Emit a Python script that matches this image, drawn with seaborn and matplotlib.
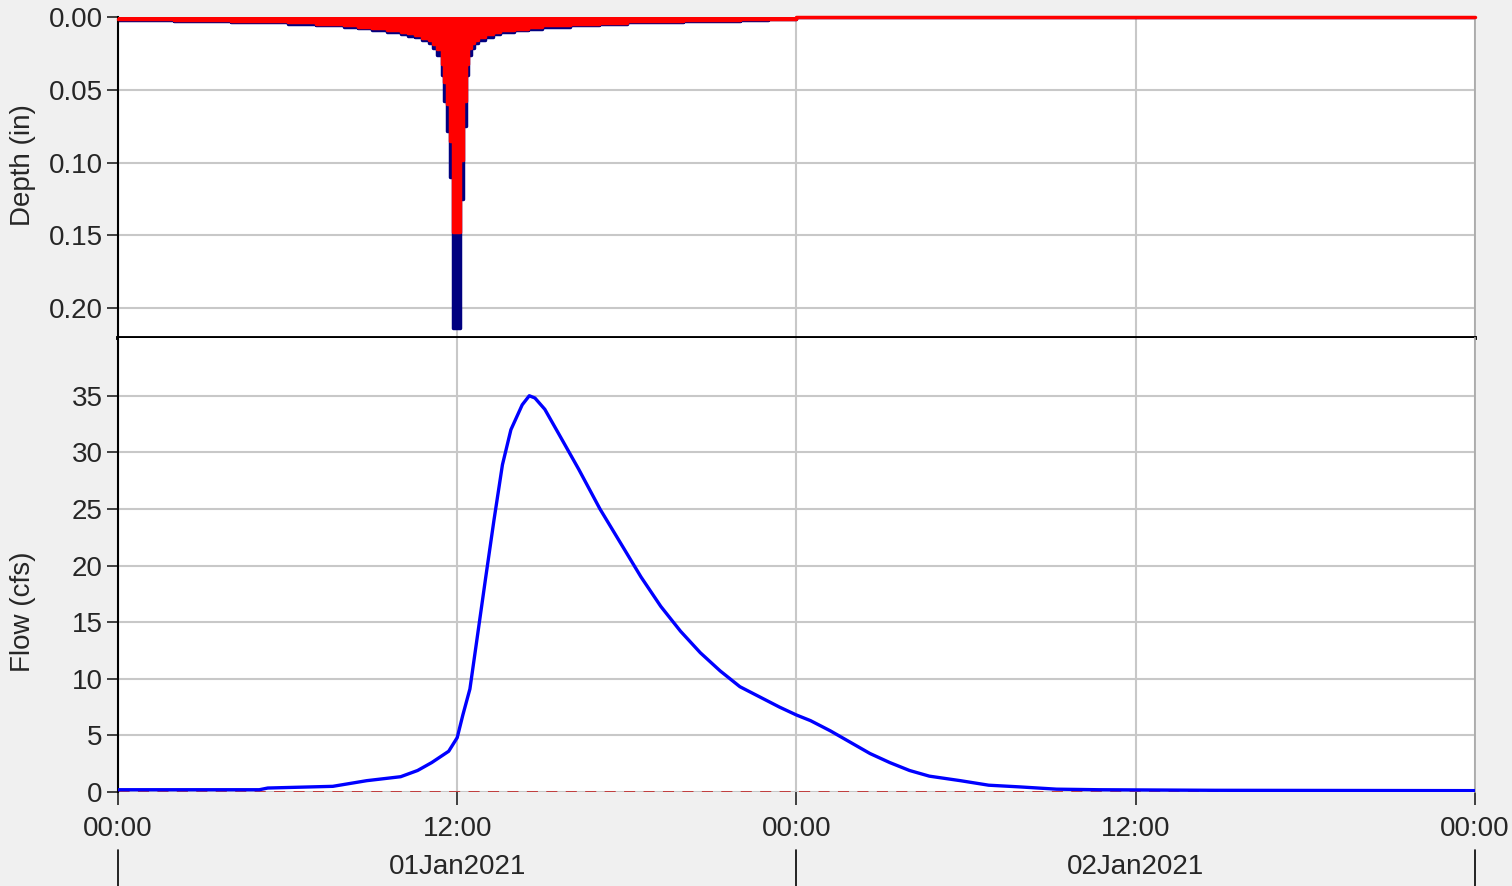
import numpy as np
import matplotlib
matplotlib.use("Agg")
import matplotlib.pyplot as plt
import matplotlib.transforms as mtransforms
import seaborn as sns

sns.set_theme(style="white")
plt.rcParams["font.family"] = ["Liberation Sans", "DejaVu Sans"]

# ---------- DATA (hours since 01Jan2021 00:00) ----------
rain_hours = [0, 2, 4, 6, 7, 8, 8.5, 9, 9.5, 10,
              10.25, 10.5, 10.75, 11, 11.15, 11.3, 11.45, 11.55, 11.65, 11.75,
              11.85, 12.1, 12.2, 12.3, 12.4, 12.5, 12.6, 12.75, 13, 13.25,
              13.5, 14, 14.5, 15, 16, 17, 18, 20, 22, 23,
              24, 48]
# total precipitation depth per interval (in)
rain_in = [0.002, 0.003, 0.0035, 0.0045, 0.0055, 0.0068, 0.0078, 0.009, 0.0102, 0.0115,
           0.0128, 0.014, 0.016, 0.018, 0.021, 0.026, 0.04, 0.058, 0.078, 0.11,
           0.214, 0.125, 0.075, 0.04, 0.026, 0.021, 0.018, 0.016, 0.0135, 0.012,
           0.0105, 0.0092, 0.008, 0.0068, 0.0056, 0.0047, 0.0037, 0.0028, 0.002, 0.0015,
           0, 0]
# excess precipitation depth per interval (in)
excess_in = [0.0015, 0.0022, 0.0028, 0.0037, 0.0046, 0.0058, 0.0067, 0.0078, 0.0089, 0.0101,
             0.0113, 0.0124, 0.0142, 0.016, 0.0185, 0.022, 0.032, 0.045, 0.06, 0.085,
             0.148, 0.098, 0.058, 0.032, 0.021, 0.018, 0.0155, 0.0138, 0.0117, 0.0104,
             0.0091, 0.008, 0.0069, 0.0058, 0.0047, 0.0039, 0.003, 0.0022, 0.0016, 0.0012,
             0, 0]

flow_hours = [0, 5.0, 5.3, 7.6, 8.8, 10.0, 10.6, 11.1, 11.7, 12.0,
              12.2, 12.45, 12.7, 13.0, 13.3, 13.6, 13.9, 14.3, 14.55, 14.75,
              15.1, 15.6, 16.3, 17.05, 17.8, 18.5, 19.2, 19.9, 20.6, 21.3,
              22.0, 22.7, 23.4, 24.0, 24.5, 25.2, 25.9, 26.6, 27.3, 28.0,
              28.7, 29.8, 30.8, 31.9, 33.2, 34.7, 38.8, 48]
flow_cfs = [0.2, 0.2, 0.35, 0.5, 1.0, 1.35, 1.9, 2.6, 3.6, 4.8,
            6.8, 9.1, 13.5, 18.8, 24.0, 28.9, 32.0, 34.2, 35.0, 34.8,
            33.8, 31.6, 28.5, 25.0, 21.9, 19.0, 16.4, 14.2, 12.3, 10.7,
            9.3, 8.4, 7.5, 6.8, 6.3, 5.4, 4.4, 3.4, 2.6, 1.9,
            1.4, 1.0, 0.6, 0.45, 0.25, 0.2, 0.15, 0.12]

x_ticks = [0, 12, 24, 36, 48]
x_tick_labels = ["00:00", "12:00", "00:00", "12:00", "00:00"]
day_edges = [0, 24, 48]
day_centers = [12, 36]
day_labels = ["01Jan2021", "02Jan2021"]
depth_ticks = [0.00, 0.05, 0.10, 0.15, 0.20]
flow_ticks = [0, 5, 10, 15, 20, 25, 30, 35]

FS = 20
GRID = "#c8c8c8"

fig = plt.figure(figsize=(15.12, 8.86), dpi=100, facecolor="#f0f0f0")
ax_top = fig.add_axes([0.0780, 0.6185, 0.8975, 0.3623])
ax_bot = fig.add_axes([0.0780, 0.1061, 0.8975, 0.5124])

# ---------- DEPTH PANEL ----------
ax_top.fill_between(rain_hours, rain_in, step="post", color="#000080", lw=0, zorder=2)
sns.lineplot(x=rain_hours, y=rain_in, drawstyle="steps-post", color="#000080",
             lw=2.5, ax=ax_top, zorder=2)
ax_top.fill_between(rain_hours, excess_in, step="post", color="#ff0000", lw=0, zorder=3)
sns.lineplot(x=rain_hours, y=excess_in, drawstyle="steps-post", color="#ff0000",
             lw=2.5, ax=ax_top, zorder=4, clip_on=False)
ax_top.set_xlim(0, 48)
ax_top.set_ylim(0.2206, 0)
ax_top.set_yticks(depth_ticks)
ax_top.set_yticklabels([f"{v:.2f}" for v in depth_ticks])
ax_top.set_xticks(x_ticks)
ax_top.tick_params(axis="x", length=0, labelbottom=False)
ax_top.tick_params(axis="y", length=8, width=1.2, pad=3, labelsize=FS, color="#222222", left=True)
ax_top.grid(True, color=GRID, lw=1.5)
ax_top.set_axisbelow(True)
ax_top.set_ylabel("Depth (in)", fontsize=FS)
ax_top.yaxis.set_label_coords(-0.0604, 0.54)
ax_top.spines["top"].set_visible(False)
ax_top.spines["left"].set_color("black")
ax_top.spines["left"].set_linewidth(1.5)
ax_top.spines["right"].set_color("#a8a8a8")
ax_top.spines["bottom"].set_color("black")
ax_top.spines["bottom"].set_linewidth(2.8)

# ---------- FLOW PANEL ----------
ax_bot.axhline(0, color="#c03030", lw=2, ls=(0, (4, 3)), zorder=2)
sns.lineplot(x=flow_hours, y=flow_cfs, color="#0000ff", lw=2.4, ax=ax_bot, zorder=3)
ax_bot.set_xlim(0, 48)
ax_bot.set_ylim(0, 40.1)
ax_bot.set_yticks(flow_ticks)
ax_bot.set_xticks(x_ticks)
ax_bot.set_xticklabels(x_tick_labels)
ax_bot.tick_params(axis="y", length=8, width=1.2, pad=3, labelsize=FS, color="#222222", left=True)
ax_bot.tick_params(axis="x", length=9, width=1.2, pad=8, labelsize=FS, color="#222222", bottom=True)
ax_bot.grid(True, color=GRID, lw=1.5)
ax_bot.set_axisbelow(True)
ax_bot.set_ylabel("Flow (cfs)", fontsize=FS)
ax_bot.yaxis.set_label_coords(-0.0604, 0.396)
ax_bot.spines["top"].set_visible(False)
ax_bot.spines["bottom"].set_visible(False)
ax_bot.spines["left"].set_color("black")
ax_bot.spines["left"].set_linewidth(1.5)
ax_bot.spines["right"].set_color("#a8a8a8")

# ---------- DATE ROW ----------
blend = mtransforms.blended_transform_factory(ax_bot.transData, fig.transFigure)
for e in day_edges:
    ax_bot.plot([e, e], [0.0, 0.0406], transform=blend, color="black", lw=1.2, clip_on=False)
for c, lab in zip(day_centers, day_labels):
    ax_bot.text(c, 0.0215, lab, transform=blend, ha="center", va="center", fontsize=FS)

fig.savefig("out.png", dpi=100, facecolor=fig.get_facecolor())
